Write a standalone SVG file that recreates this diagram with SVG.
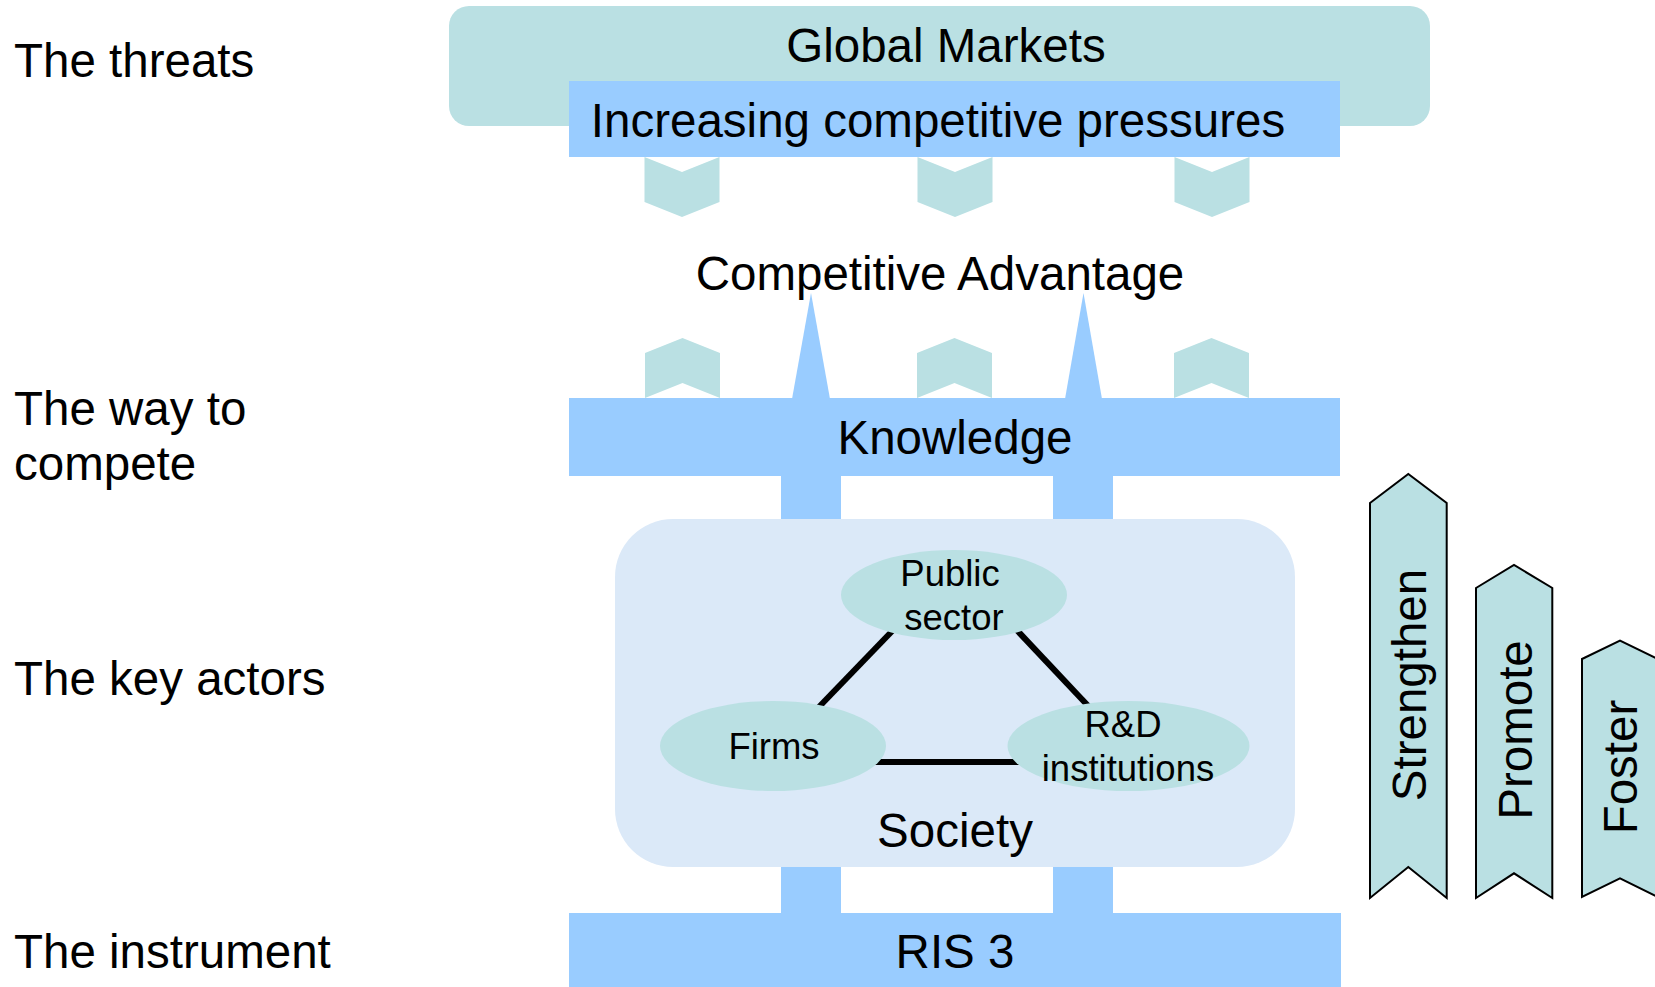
<svg xmlns="http://www.w3.org/2000/svg" width="1655" height="987" viewBox="0 0 1655 987">
<style>
.t{font-family:"Liberation Sans",Arial,sans-serif;fill:#000}
.big{font-size:47.5px}
.mid{font-size:36.5px}
.mc{text-anchor:middle}
.teal{fill:#bae0e3}
.blue{fill:#99ccff}
.soc{fill:#dbe9f8}
.arr{fill:#bae0e3;stroke:#000;stroke-width:2;stroke-linejoin:miter}
.link{stroke:#000;stroke-width:6;fill:none}
</style>
<rect width="1655" height="987" fill="#fff"/>

<g id="labels">
<text class="t big" x="14" y="77">The threats</text>
<text class="t big" x="14" y="425">The way to</text>
<text class="t big" x="14" y="480">compete</text>
<text class="t big" x="14" y="695">The key actors</text>
<text class="t big" x="14" y="968">The instrument</text>
</g>

<g id="global-markets">
<rect class="teal" x="449" y="6" width="981" height="120" rx="20"/>
<text class="t big mc" x="946" y="62">Global Markets</text>
</g>

<g id="pressures">
<rect class="blue" x="569" y="81" width="771" height="76"/>
<text class="t big mc" x="938" y="137">Increasing competitive pressures</text>
</g>

<g id="competitive-advantage">
<text class="t big mc" x="940" y="290">Competitive Advantage</text>
</g>

<g id="connectors">
<polygon class="teal" points="644.5,157 682,172 719.5,157 719.5,202 682,217 644.5,202"/>
<polygon class="teal" points="917.5,157 955,172 992.5,157 992.5,202 955,217 917.5,202"/>
<polygon class="teal" points="1174.5,157 1212,172 1249.5,157 1249.5,202 1212,217 1174.5,202"/>
<polygon class="teal" points="645,398 682.5,383 720,398 720,353 682.5,338 645,353"/>
<polygon class="teal" points="917,398 954.5,383 992,398 992,353 954.5,338 917,353"/>
<polygon class="teal" points="1174,398 1211.5,383 1249,398 1249,353 1211.5,338 1174,353"/>
<polygon class="blue" points="792,399 811,293 830,399"/>
<polygon class="blue" points="1065,399 1083.5,293 1102,399"/>
<rect class="blue" x="781" y="474" width="60" height="47"/>
<rect class="blue" x="1053" y="474" width="60" height="47"/>
<rect class="blue" x="781" y="865" width="60" height="50"/>
<rect class="blue" x="1053" y="865" width="60" height="50"/>
</g>

<g id="knowledge">
<rect class="blue" x="569" y="398" width="771" height="78"/>
<text class="t big mc" x="955" y="454">Knowledge</text>
</g>

<g id="society">
<rect class="soc" x="615" y="519" width="680" height="348" rx="58"/>
<text class="t big mc" x="955" y="847">Society</text>
</g>

<g id="actor-links">
<line class="link" x1="898" y1="625" x2="816" y2="710"/>
<line class="link" x1="1012" y1="625" x2="1092" y2="710"/>
<line class="link" x1="870" y1="762" x2="1025" y2="762"/>
</g>

<g id="public-sector">
<ellipse class="teal" cx="954" cy="595" rx="113" ry="45"/>
<text class="t mid mc" x="950" y="586">Public</text>
<text class="t mid mc" x="954" y="630">sector</text>
</g>

<g id="firms">
<ellipse class="teal" cx="773" cy="746" rx="113" ry="45"/>
<text class="t mid mc" x="774" y="759">Firms</text>
</g>

<g id="rd-institutions">
<ellipse class="teal" cx="1128.5" cy="746" rx="121" ry="45"/>
<text class="t mid mc" x="1123" y="737">R&amp;D</text>
<text class="t mid mc" x="1128" y="781">institutions</text>
</g>

<g id="ris3">
<rect class="blue" x="569" y="913" width="772" height="74"/>
<text class="t big mc" x="955" y="968">RIS 3</text>
</g>

<g id="strengthen">
<polygon class="arr" points="1370,503 1408.3,474 1446.7,503 1446.7,898 1408.3,867 1370,898"/>
<text class="t big mc" transform="translate(1426,685) rotate(-90)">Strengthen</text>
</g>

<g id="promote">
<polygon class="arr" points="1476,588 1514,565 1552.3,588 1552.3,898 1514,873.3 1476,898"/>
<text class="t big mc" transform="translate(1532,730) rotate(-90)">Promote</text>
</g>

<g id="foster">
<polygon class="arr" points="1582,659 1620,640.7 1658,659 1658,897 1620,878.3 1582,897"/>
<text class="t big mc" transform="translate(1637,767) rotate(-90)">Foster</text>
</g>
</svg>
